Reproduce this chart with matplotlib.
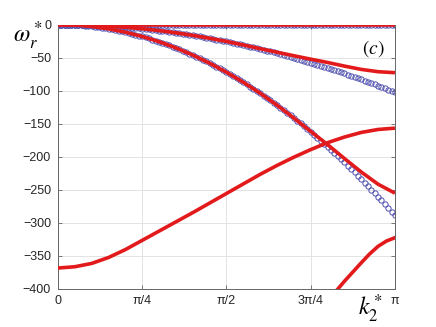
import matplotlib
matplotlib.use('Agg')
import matplotlib.pyplot as plt
import numpy as np

# Blue circles (approximation), 101 samples over k2* in [0, pi]
k_blue = np.linspace(0, np.pi, 101)
blue_0 = [0.0] * 101
blue_a = [0.0, -0.0, -0.0, -0.1, -0.2, -0.3, -0.4, -0.5, -0.7, -0.8,
          -1.0, -1.2, -1.5, -1.7, -2.0, -2.3, -2.6, -3.0, -3.3, -3.7,
          -4.1, -4.5, -5.0, -5.4, -5.9, -6.4, -6.9, -7.5, -8.0, -8.6,
          -9.2, -9.9, -10.5, -11.2, -11.9, -12.6, -13.3, -14.0, -14.8, -15.6,
          -16.4, -17.2, -18.1, -19.0, -19.9, -20.8, -21.7, -22.7, -23.6, -24.6,
          -25.6, -26.7, -27.7, -28.8, -29.9, -31.0, -32.2, -33.3, -34.5, -35.7,
          -36.9, -38.2, -39.4, -40.7, -42.0, -43.3, -44.7, -46.1, -47.4, -48.8,
          -50.3, -51.7, -53.2, -54.7, -56.2, -57.7, -59.3, -60.8, -62.4, -64.0,
          -65.7, -67.3, -69.0, -70.7, -72.4, -74.1, -75.9, -77.7, -79.5, -81.3,
          -83.1, -85.0, -86.8, -88.7, -90.7, -92.6, -94.6, -96.5, -98.5, -100.6,
          -102.6]
blue_b = [0.0, -0.0, -0.1, -0.3, -0.5, -0.7, -1.0, -1.4, -1.9, -2.3,
          -2.9, -3.5, -4.2, -4.9, -5.7, -6.5, -7.4, -8.4, -9.4, -10.4,
          -11.6, -12.8, -14.0, -15.3, -16.7, -18.1, -19.6, -21.1, -22.7, -24.3,
          -26.0, -27.8, -29.6, -31.5, -33.4, -35.4, -37.5, -39.6, -41.8, -44.0,
          -46.3, -48.6, -51.0, -53.5, -56.0, -58.6, -61.2, -63.9, -66.6, -69.4,
          -72.3, -75.2, -78.2, -81.2, -84.3, -87.5, -90.7, -94.0, -97.3, -100.7,
          -104.1, -107.6, -111.2, -114.8, -118.5, -122.2, -126.0, -129.8, -133.7, -137.7,
          -141.7, -145.8, -149.9, -154.1, -158.4, -162.7, -167.0, -171.5, -176.0, -180.5,
          -185.1, -189.7, -194.5, -199.2, -204.1, -208.9, -213.9, -218.9, -224.0, -229.1,
          -234.3, -239.5, -244.8, -250.1, -255.5, -261.0, -266.5, -272.1, -277.7, -283.4,
          -289.2]

# Red lines (exact), k2* given as fractions of pi
f_red = [0.0, 0.05, 0.1, 0.15, 0.2, 0.25, 0.3, 0.35, 0.4, 0.45, 0.5,
         0.55, 0.6, 0.65, 0.7, 0.75, 0.8, 0.85, 0.9, 0.95, 1.0]
red_0 = [0.0] * 21
red_a = [0.0, -0.3, -1.0, -2.3, -4.1, -6.4, -9.2, -12.6, -16.4, -20.8, -25.6,
         -31.0, -36.6, -42.0, -47.3, -52.5, -57.5, -63.0, -68.0, -71.5, -73.0]
red_b = [0.0, -0.7, -2.9, -6.5, -11.6, -18.1, -26.0, -35.4, -46.3, -58.6, -72.3,
         -87.5, -104.1, -122.2, -141.7, -162.0, -182.0, -203.0, -223.5, -242.0, -255.5]
red_c = [-369, -367, -362, -353, -341, -327, -313, -299, -285, -270.5, -256,
         -241.5, -227, -213.5, -201, -189.5, -179, -170.5, -163.5, -159, -157]
f_red_d = [0.8, 0.825, 0.85, 0.875, 0.9, 0.925, 0.95, 0.975, 1.0]
red_d = [-419, -404, -389, -375, -361, -347.5, -336, -328, -323]

xtick_labels = ['0', 'π/4', 'π/2', '3π/4', 'π']
yticks = [0, -50, -100, -150, -200, -250, -300, -350, -400]

plt.rcParams['font.family'] = ['Liberation Sans', 'DejaVu Sans']
plt.rcParams['mathtext.fontset'] = 'stix'

fig = plt.figure(figsize=(4.36, 3.27), dpi=100)
ax = fig.add_axes([0.133, 0.1177, 0.7729, 0.8073])

blue = '#4f4fb0'
red = '#e31a1c'
for yb in [blue_0, blue_a, blue_b]:
    ax.plot(k_blue, yb, 'o', mfc='none', mec=blue, ms=3.8, mew=0.7, zorder=2)

kr = np.array(f_red) * np.pi
for yr in [red_0, red_a, red_b, red_c]:
    ax.plot(kr, yr, '-', color=red, lw=2.6, zorder=3, solid_capstyle='butt')
ax.plot(np.array(f_red_d) * np.pi, red_d, '-', color=red, lw=2.6, zorder=3)

ax.set_xlim(0, np.pi)
ax.set_ylim(-400, 0)
ax.set_xticks([0, np.pi / 4, np.pi / 2, 3 * np.pi / 4, np.pi])
ax.set_xticklabels(xtick_labels)
ax.set_yticks(yticks)
ax.grid(True, color='#e3e3e3', lw=0.7)
ax.set_axisbelow(True)
ax.tick_params(direction='in', length=3, width=0.6, top=True, right=True,
               labelsize=9, colors='#262626', pad=5)
ax.tick_params(axis='both', color='#666666')
for s in ax.spines.values():
    s.set_color('#666666')
    s.set_linewidth(0.7)

ax.text(0.97, 0.91, r'$(c)$', transform=ax.transAxes, ha='right', va='center',
        fontsize=14)
fig.text(28 / 436, 1 - 36 / 327, r'$\omega_r^*$', ha='center', va='center',
         fontsize=17)
fig.text(371 / 436, 1 - 309 / 327, r'$k_2^*$', ha='center', va='center',
         fontsize=17)

plt.savefig('out.png', dpi=100)
